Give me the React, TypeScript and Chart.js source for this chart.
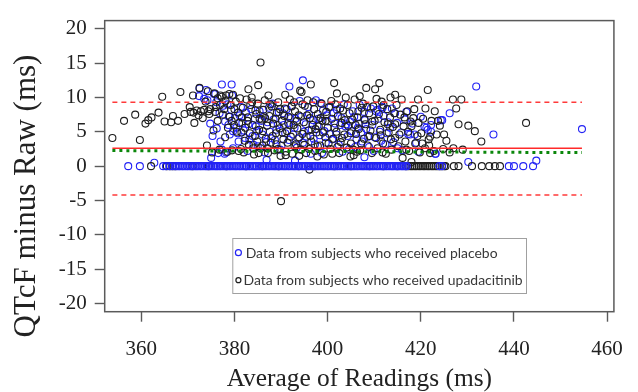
import React, { useEffect, useRef } from "react";
import { Chart, registerables } from "chart.js";

Chart.register(...registerables);

const xTicks = [360, 380, 400, 420, 440, 460];
const yTicks = [-20, -15, -10, -5, 0, 5, 10, 15, 20];
const xTitle = "Average of Readings (ms)";
const yTitle = "QTcF minus Raw (ms)";
const legendLabels = [
  "Data from subjects who received placebo",
  "Data from subjects who received upadacitinib",
];

const meanDiff = 2.6;
const upperLimit = 9.3;
const lowerLimit = -4.2;
const trendEnds = [2.27, 1.97];

// placebo readings with zero difference (x only)
const placeboZeroX = [
  357.2, 359.7, 364.7, 365.3, 366.0, 366.6, 367.2, 367.6, 368.0, 368.3, 368.7, 369.0, 369.4, 369.8,
  370.1, 370.5, 370.8, 371.2, 371.6, 371.9, 372.2, 372.6, 372.9, 373.3, 373.7, 374.0, 374.3, 374.7,
  375.0, 375.4, 375.8, 376.1, 376.4, 376.8, 377.1, 377.5, 377.9, 378.2, 378.5, 378.9, 379.2, 379.6,
  380.0, 380.3, 380.6, 381.0, 381.3, 381.7, 382.1, 382.4, 382.7, 383.1, 383.4, 383.8, 384.2, 384.5,
  384.8, 385.2, 385.5, 385.9, 386.3, 386.6, 386.9, 387.3, 387.6, 388.0, 388.4, 388.7, 389.0, 389.4,
  389.7, 390.1, 390.5, 390.8, 391.1, 391.5, 391.8, 392.2, 392.6, 392.9, 393.2, 393.6, 393.9, 394.3,
  394.7, 395.0, 395.3, 395.7, 396.0, 396.4, 396.8, 397.1, 397.4, 397.8, 398.1, 398.5, 398.9, 399.2,
  399.5, 399.9, 400.2, 400.6, 401.0, 401.3, 401.6, 402.0, 402.3, 402.7, 403.1, 403.4, 403.7, 404.1,
  404.4, 404.8, 405.2, 405.5, 405.8, 406.2, 406.5, 406.9, 407.3, 407.6, 407.9, 408.3, 408.6, 409.0,
  409.4, 409.7, 410.0, 410.4, 410.7, 411.1, 411.5, 411.8, 412.1, 412.5, 412.8, 413.2, 413.6, 413.9,
  414.2, 414.6, 414.9, 415.3, 415.7, 416.0, 416.3, 416.7, 417.0, 424.0, 424.6, 438.9, 440.0, 442.0,
  444.1,
];

// placebo readings with non-zero difference [x, y]
const placeboPoints: [number, number][] = [
  [362.8, 0.5], [372.4, 10.2], [372.5, 11.3], [373.5, 9.8], [373.9, 11.1], [375.6, 10.5], [375.9, 10.5],
  [376.1, 9.3], [377.3, 11.9], [379.4, 11.9], [377.3, 2.4], [378.2, 2.0], [379.7, 2.6], [378.0, 6.5],
  [378.7, 6.0], [379.7, 5.1], [379.0, 4.6], [376.5, 1.9], [377.9, 1.8], [376.8, 7.7], [379.3, 8.2],
  [378.5, 9.0], [374.2, 9.6], [375.0, 1.2], [374.8, 6.2], [375.3, 4.4], [376.2, 5.5], [377.0, 3.6],
  [377.6, 8.8], [378.8, 7.2], [379.5, 10.3],
  [380.4, 5.6], [380.9, 3.6], [381.1, 7.4], [381.7, 6.3], [382.3, 4.1], [382.8, 2.2], [383.2, 3.9],
  [383.9, 4.4], [384.4, 6.9], [384.9, 5.1], [385.4, 8.0], [386.0, 4.6], [386.5, 2.0], [387.1, 6.4],
  [387.6, 5.0], [388.2, 9.1], [388.7, 3.8], [389.3, 6.0], [389.8, 2.4], [390.4, 7.7], [390.9, 4.8],
  [391.5, 6.3], [391.8, 11.6], [392.3, 8.8], [392.9, 5.6], [393.4, 2.7], [394.0, 9.5], [394.7, 12.5],
  [394.7, 3.4], [395.3, 6.1], [395.8, 8.6], [396.4, 1.8], [396.6, 5.3], [397.0, 4.0], [397.5, 9.6],
  [398.0, 6.9], [398.5, 9.2], [398.8, 1.9], [399.3, 5.1], [399.8, 7.4], [386.9, 0.9], [393.0, 0.8],
  [380.1, 7.0], [380.7, 4.8], [381.4, 8.6], [382.0, 5.2], [382.5, 7.8], [383.0, 6.1], [383.6, 8.3],
  [384.1, 3.1], [384.6, 5.8], [385.0, 2.9], [385.8, 6.6], [386.3, 7.3], [386.8, 3.5], [387.4, 8.5],
  [387.9, 4.1], [388.4, 6.8], [389.0, 5.3], [389.5, 7.9], [390.1, 3.0], [390.6, 6.0], [391.2, 8.3],
  [391.7, 3.8], [392.0, 7.0], [392.6, 4.6], [393.1, 6.9], [393.7, 4.0], [394.3, 7.2], [394.9, 5.0],
  [395.5, 4.3], [396.0, 7.6], [396.9, 6.7], [397.3, 3.2], [397.8, 5.9], [398.3, 4.5], [399.0, 8.1],
  [399.6, 3.4],
  [400.6, 8.6], [401.0, 3.9], [401.6, 6.2], [402.0, 8.2], [402.7, 6.0], [403.2, 2.1], [403.8, 5.8],
  [404.3, 4.4], [404.8, 6.5], [405.4, 8.0], [405.9, 2.8], [406.5, 5.6], [406.9, 8.9], [407.4, 3.6],
  [408.0, 6.7], [408.7, 4.3], [409.3, 8.4], [409.9, 2.2], [410.4, 8.0], [410.7, 8.2], [411.2, 5.0],
  [411.7, 8.6], [411.8, 8.5], [412.4, 3.2], [413.0, 6.4], [413.8, 8.4], [414.5, 7.7], [415.0, 2.6],
  [415.8, 4.9], [416.6, 6.8], [417.3, 4.7], [417.7, 4.6], [418.7, 4.6], [419.5, 2.1], [420.8, 5.7],
  [407.9, 1.3], [400.0, 6.5], [400.4, 4.7], [401.3, 7.7], [401.9, 4.6], [402.4, 3.1], [403.0, 7.0],
  [403.5, 9.0], [404.0, 6.1], [404.6, 2.5], [405.1, 5.1], [405.7, 7.2], [406.2, 3.9], [406.8, 6.2],
  [407.2, 4.9], [407.8, 7.9], [408.3, 5.4], [408.9, 2.8], [409.6, 6.0], [410.1, 4.2], [410.9, 6.9],
  [411.5, 3.7], [412.0, 7.3], [412.7, 4.8], [413.4, 5.6], [414.1, 3.5], [414.9, 6.3], [416.0, 2.3],
  [416.9, 7.9], [418.2, 6.2], [419.0, 3.4], [420.0, 7.2],
  [421.2, 5.6], [421.5, 5.3], [422.2, 5.0], [422.2, 6.0], [423.1, 1.8], [423.2, 1.8], [424.3, 6.7],
  [424.6, 6.7], [426.2, 7.7], [430.2, 0.6], [431.9, 11.6], [435.6, 4.6], [444.8, 0.8], [454.6, 5.4],
];

// upadacitinib readings with zero difference (x only)
const upaZeroX = [
  362.1, 365.5, 366.2, 366.8, 367.3, 371.0, 374.5, 378.3, 382.5, 386.0, 389.5, 393.8, 397.2, 401.5,
  405.0, 409.0, 412.0, 415.0, 416.8, 417.3, 417.8, 418.2, 418.7, 419.1, 419.6, 420.0, 420.5, 420.9,
  421.4, 421.8, 422.3, 422.7, 423.2, 423.6, 424.1, 424.5, 425.0, 425.3, 427.1, 428.1, 431.0, 433.1,
  434.7, 435.9, 437.0,
];

// upadacitinib readings with non-zero difference [x, y]
const upaPoints: [number, number][] = [
  [353.8, 4.1], [356.3, 6.6], [358.7, 7.5], [359.7, 3.8], [360.9, 6.2], [361.5, 6.7], [362.2, 7.1],
  [363.7, 7.8], [364.5, 10.1], [365.0, 6.5], [366.4, 6.4], [366.8, 7.3], [367.9, 6.6], [368.4, 10.8],
  [369.3, 7.6], [370.4, 8.6], [370.6, 7.9], [371.1, 10.3], [371.4, 6.3], [371.2, 7.8], [371.9, 8.1],
  [372.3, 7.4], [372.5, 11.4], [372.8, 8.0], [373.2, 7.0], [373.5, 8.2],
  [374.1, 3.0], [375.2, 2.0], [374.3, 10.9], [374.8, 8.3], [375.5, 5.2], [375.7, 10.6], [376.4, 9.9],
  [376.4, 6.6], [377.0, 10.3], [377.3, 10.1], [377.5, 7.5], [378.0, 4.2], [378.2, 10.3], [378.9, 10.5],
  [379.7, 10.4], [379.2, 8.9], [376.0, 8.6], [377.8, 8.3], [379.0, 7.2], [378.5, 2.1], [379.5, 2.3],
  [376.8, 2.4], [379.9, 6.0], [374.6, 7.6], [375.9, 7.9], [378.6, 5.6], [373.8, 9.4], [374.4, 8.0],
  [376.9, 8.9], [378.1, 9.5], [379.4, 6.6], [380.0, 8.3],
  [380.3, 9.4], [380.8, 7.8], [381.0, 6.3], [381.2, 9.9], [381.5, 4.9], [381.8, 8.5], [382.0, 2.0],
  [382.3, 5.6], [382.6, 9.7], [382.9, 7.1], [383.1, 3.1], [383.4, 8.9], [383.7, 10.0], [383.9, 6.0],
  [384.2, 1.7], [384.4, 4.4], [384.7, 7.6], [385.0, 9.1], [385.1, 11.8], [385.6, 15.1], [385.3, 5.3],
  [385.6, 2.6], [385.9, 6.8], [386.2, 8.2], [386.5, 9.6], [386.7, 4.0], [387.0, 5.9], [387.2, 1.9],
  [387.5, 7.3], [387.8, 3.4], [388.0, 8.7], [388.3, 6.2], [388.6, 2.3], [388.9, 4.8], [389.1, 7.8],
  [389.4, 9.3], [389.7, 5.5], [389.9, 1.5], [390.0, -5.1], [386.0, 3.0], [384.0, 2.6], [381.4, 2.5],
  [389.0, 3.2], [387.3, 10.3], [383.0, 11.2], [380.5, 5.0], [380.9, 2.2], [381.6, 7.1], [382.2, 3.7],
  [382.8, 6.6], [383.3, 4.8], [383.8, 9.3], [384.5, 8.1], [384.9, 3.6], [385.4, 6.9], [386.1, 5.1],
  [386.6, 7.0], [387.1, 2.6], [387.7, 9.0], [388.2, 4.4], [388.8, 6.9], [389.3, 2.5], [389.8, 8.3],
  [385.2, 1.9],
  [390.2, 6.6], [390.5, 3.9], [390.8, 8.4], [391.0, 2.1], [391.3, 5.1], [391.6, 7.2], [391.9, 9.7],
  [392.1, 4.3], [392.4, 1.8], [392.7, 6.0], [393.0, 8.0], [393.2, 3.2], [393.5, 5.5], [393.8, 7.4],
  [394.1, 11.0], [394.4, 10.8], [394.3, 2.4], [394.6, 4.7], [394.9, 6.4], [395.1, 8.8], [395.4, 1.9],
  [395.7, 9.6], [395.9, 5.2], [396.1, -0.5], [396.2, 7.0], [396.4, 11.9], [396.5, 3.6], [396.8, 6.0],
  [397.1, 8.3], [397.3, 2.2], [397.6, 4.9], [397.9, 7.6], [398.1, 5.8], [398.4, 3.0], [398.7, 9.1],
  [398.9, 6.6], [399.2, 1.7], [399.5, 4.2], [399.7, 7.9], [390.9, 10.4], [392.8, 9.3], [397.8, 1.4],
  [393.9, 1.5], [390.3, 4.9], [390.7, 7.3], [391.4, 3.4], [391.8, 6.0], [392.3, 8.7], [392.9, 2.9],
  [393.4, 6.6], [393.9, 4.2], [394.6, 9.0], [395.0, 3.1], [395.6, 7.4], [396.3, 4.4], [396.9, 9.3],
  [397.4, 5.4], [397.9, 2.9], [398.5, 7.0], [399.0, 4.9], [399.6, 6.6], [391.0, 1.6], [396.0, 2.5],
  [400.0, 5.6], [400.3, 8.6], [400.6, 2.5], [400.9, 6.9], [401.2, 4.0], [401.4, 12.1], [401.7, 9.0],
  [401.9, 5.0], [402.2, 7.3], [402.5, 1.9], [402.8, 3.5], [403.0, 6.3], [403.3, 8.1], [403.6, 4.6],
  [403.9, 10.0], [404.1, 2.7], [404.4, 5.9], [404.7, 7.7], [405.0, 3.3], [405.3, 6.8], [405.6, 1.6],
  [405.8, 9.7], [406.1, 4.7], [406.4, 7.1], [406.7, 5.4], [407.0, 2.3], [407.3, 8.5], [407.6, 9.1],
  [407.8, 4.0], [408.1, 6.1], [408.3, 11.4], [408.6, 3.0], [408.9, 7.7], [409.2, 5.2], [409.5, 1.9],
  [409.8, 8.7], [402.0, 10.6], [406.9, 10.2], [404.9, 1.4], [400.2, 3.3], [400.8, 9.5], [401.5, 5.6],
  [402.1, 2.8], [402.7, 8.4], [403.1, 4.1], [403.7, 6.7], [404.3, 8.9], [404.9, 4.8], [405.5, 2.4],
  [406.0, 6.0], [406.6, 8.0], [407.2, 3.3], [407.9, 6.8], [408.5, 8.6], [409.0, 4.4], [409.6, 6.5],
  [401.0, 1.8], [406.3, 2.1],
  [410.2, 11.2], [410.1, 6.6], [410.4, 4.1], [410.7, 2.6], [411.1, 12.1], [411.0, 7.6], [411.3, 5.3],
  [411.6, 9.4], [411.9, 3.3], [412.2, 6.4], [412.5, 1.8], [412.8, 8.3], [413.1, 4.9], [413.4, 7.1],
  [413.7, 2.4], [414.0, 5.7], [414.5, 10.4], [414.5, 6.1], [414.5, 4.1], [414.8, 8.9], [415.2, 2.9],
  [415.6, 7.5], [416.1, 1.2], [416.3, 5.8], [416.7, 3.6], [417.1, 8.0], [417.5, 2.2], [418.0, 5.8],
  [418.0, 0.6], [418.4, 7.0], [418.8, 3.3], [419.4, 9.7], [419.3, 4.4], [419.8, 2.0], [415.9, 9.7],
  [417.8, 6.5], [413.5, 10.0], [410.5, 9.8], [411.4, 4.5], [412.0, 8.9], [412.9, 6.1], [413.6, 3.9],
  [414.3, 7.7], [415.4, 4.6], [416.5, 7.1], [417.3, 5.0], [418.6, 8.3], [419.5, 6.3], [411.8, 2.0],
  [416.9, 2.4],
  [420.1, 4.8], [420.5, 6.9], [420.9, 2.6], [421.5, 11.1], [421.7, 3.9], [421.8, 3.0], [422.3, 6.6],
  [422.8, 2.2], [423.4, 4.6], [424.1, 5.9], [424.8, 2.5], [425.5, 3.7], [426.9, 9.7], [427.6, 8.4],
  [428.1, 6.1], [428.7, 9.7], [429.0, 2.4], [430.2, 5.9], [431.6, 5.1], [433.0, 3.6], [442.6, 6.3],
  [426.2, 2.0], [423.0, 8.0], [420.3, 3.3], [421.0, 8.4], [422.0, 4.3], [423.7, 6.6], [425.0, 4.6],
  [422.0, 1.9], [427.0, 2.6],
];

const BLUE = "#2323f5";
const BLACK = "#1e1e1e";
const FRAME = "#5a5a5a";

export default function App() {
  const ref = useRef<HTMLCanvasElement>(null);

  useEffect(() => {
    const canvas = ref.current;
    if (!canvas) return;

    const allX = [
      ...placeboZeroX,
      ...placeboPoints.map((p) => p[0]),
      ...upaZeroX,
      ...upaPoints.map((p) => p[0]),
    ];
    const xMin = Math.min(...allX);
    const xMax = Math.max(...allX);
    const hLine = (y: number) => [
      { x: xMin, y },
      { x: xMax, y },
    ];

    const pointSet = (label: string, data: { x: number; y: number }[], color: string) => ({
      type: "scatter" as const,
      label,
      data,
      showLine: false,
      pointRadius: 3.5,
      pointHoverRadius: 3.5,
      pointBorderWidth: 1.1,
      pointBorderColor: color,
      pointBackgroundColor: "rgba(0,0,0,0)",
    });

    const framePlugin = {
      id: "framePlugin",
      afterDraw(chart: any) {
        const { ctx, chartArea: a } = chart;
        ctx.save();
        ctx.strokeStyle = FRAME;
        ctx.lineWidth = 1.5;
        ctx.strokeRect(a.left, a.top, a.right - a.left, a.bottom - a.top);

        ctx.fillStyle = "#222";
        ctx.font = '25.4px "Liberation Serif", "Times New Roman", serif';
        ctx.textAlign = "center";
        ctx.textBaseline = "alphabetic";
        ctx.fillText(xTitle, (a.left + a.right) / 2, 386);

        ctx.save();
        ctx.translate(35, 196);
        ctx.rotate(-Math.PI / 2);
        ctx.font = '31px "Liberation Serif", "Times New Roman", serif';
        ctx.fillText(yTitle, 0, 0);
        ctx.restore();

        const bx = 232.3, by = 238, bw = 293.7, bh = 55;
        ctx.fillStyle = "#ffffff";
        ctx.fillRect(bx, by, bw, bh);
        ctx.strokeStyle = "#a0a0a0";
        ctx.lineWidth = 1;
        ctx.strokeRect(bx + 0.5, by + 0.5, bw, bh);

        ctx.font = '100px Lato, "Noto Sans", sans-serif';
        const w = ctx.measureText(legendLabels[1]).width;
        const size = (100 * 279) / w;
        ctx.font = `${size.toFixed(2)}px Lato, "Noto Sans", sans-serif`;
        ctx.textAlign = "left";
        ctx.fillStyle = "#383838";
        ctx.fillText(legendLabels[0], 245.7, 257.7);
        ctx.fillText(legendLabels[1], 243.6, 285);

        ctx.lineWidth = 1.2;
        ctx.strokeStyle = BLUE;
        ctx.beginPath();
        ctx.arc(238.4, 252.7, 3, 0, Math.PI * 2);
        ctx.stroke();
        ctx.strokeStyle = BLACK;
        ctx.beginPath();
        ctx.arc(238.4, 280.2, 2.5, 0, Math.PI * 2);
        ctx.stroke();
        ctx.restore();
      },
    };

    const tickFont = { family: '"Liberation Serif", "Times New Roman", serif', size: 21 };

    const chart = new Chart(canvas, {
      type: "scatter",
      data: {
        datasets: [
          {
            type: "line",
            label: "upper",
            data: hLine(upperLimit),
            borderColor: "#ff3a3a",
            borderWidth: 1.4,
            borderDash: [5, 4],
            pointRadius: 0,
            fill: false,
          },
          {
            type: "line",
            label: "lower",
            data: hLine(lowerLimit),
            borderColor: "#ff3a3a",
            borderWidth: 1.4,
            borderDash: [5, 4],
            pointRadius: 0,
            fill: false,
          },
          {
            type: "line",
            label: "trend",
            data: [
              { x: xMin, y: trendEnds[0] },
              { x: xMax, y: trendEnds[1] },
            ],
            borderColor: "#0b870b",
            borderWidth: 3,
            borderDash: [3, 4],
            pointRadius: 0,
            fill: false,
          },
          {
            type: "line",
            label: "mean",
            data: hLine(meanDiff),
            borderColor: "#ff2a2a",
            borderWidth: 1.6,
            pointRadius: 0,
            fill: false,
          },
          pointSet("placebo zero", placeboZeroX.map((x) => ({ x, y: 0 })), BLUE),
          pointSet("upadacitinib zero", upaZeroX.map((x) => ({ x, y: 0 })), BLACK),
          pointSet("upadacitinib", upaPoints.map(([x, y]) => ({ x, y })), BLACK),
          pointSet("placebo", placeboPoints.map(([x, y]) => ({ x, y })), BLUE),
        ] as any,
      },
      options: {
        responsive: false,
        animation: false,
        devicePixelRatio: 1,
        events: [],
        layout: { padding: { left: 0, top: 12.7, right: 10, bottom: 0 } },
        plugins: {
          legend: { display: false },
          tooltip: { enabled: false },
        },
        scales: {
          x: {
            type: "linear",
            min: 352.15,
            max: 461.46,
            afterBuildTicks: (s: any) => {
              s.ticks = xTicks.map((v) => ({ value: v }));
            },
            afterFit: (s: any) => {
              s.height = 80.3;
            },
            ticks: {
              font: tickFont,
              color: "#222",
              padding: 15,
              maxRotation: 0,
              autoSkip: false,
              callback: (v: any) => String(v),
            },
            grid: {
              display: true,
              drawOnChartArea: false,
              drawTicks: true,
              tickLength: 10,
              tickWidth: 1.4,
              tickColor: FRAME,
            },
            border: { display: false },
          },
          y: {
            type: "linear",
            min: -21.2,
            max: 21.2,
            afterBuildTicks: (s: any) => {
              s.ticks = yTicks.map((v) => ({ value: v }));
            },
            afterFit: (s: any) => {
              s.width = 104.7;
            },
            ticks: {
              font: tickFont,
              color: "#222",
              padding: 8,
              autoSkip: false,
              callback: (v: any) => String(v),
            },
            grid: {
              display: true,
              drawOnChartArea: false,
              drawTicks: true,
              tickLength: 10,
              tickWidth: 1.4,
              tickColor: FRAME,
            },
            border: { display: false },
          },
        },
      },
      plugins: [framePlugin],
    });

    return () => chart.destroy();
  }, []);

  return (
    <div style={{ position: "absolute", left: 0, top: 0, width: 638, height: 392, background: "#fff" }}>
      <canvas ref={ref} width={638} height={392} style={{ display: "block" }} />
    </div>
  );
}
